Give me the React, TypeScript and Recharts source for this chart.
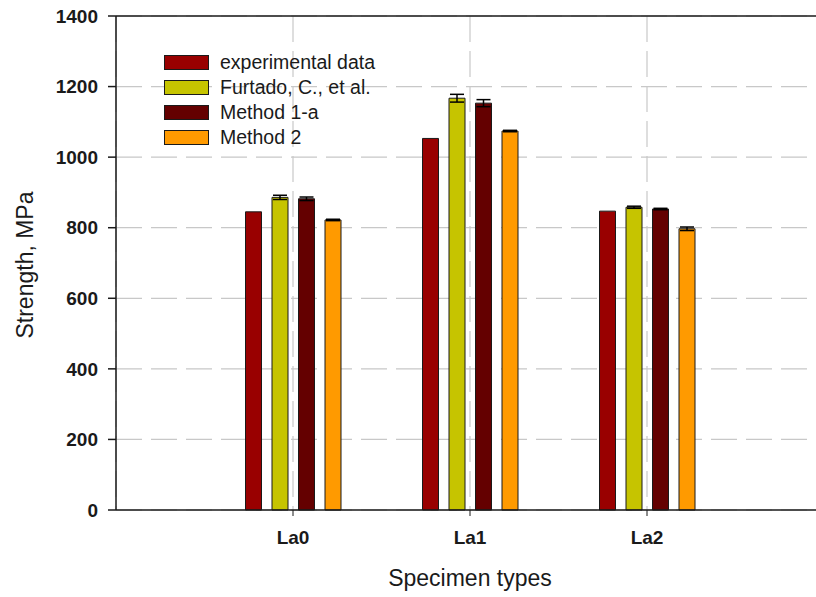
import React from 'react';
import { BarChart, Bar, XAxis, YAxis, CartesianGrid, ErrorBar, Legend, ReferenceLine } from 'recharts';

const categories = ['La0', 'La1', 'La2'];
const experimental = [845, 1053, 847];
const furtado = [886, 1167, 858];
const furtadoErr = [6, 11, 3];
const method1a = [882, 1153, 853];
const method1aErr = [5, 10, 2];
const method2 = [822, 1074, 797];
const method2Err = [2, 2, 5];
const yTicks = [0, 200, 400, 600, 800, 1000, 1200, 1400];

const seriesKeys = ['exp', 'fur', 'm1', 'm2'];
const seriesNames = ['experimental data', 'Furtado, C., et al.', 'Method 1-a', 'Method 2'];
const seriesColors = ['#990000', '#c6c400', '#640000', '#ff9a00'];

const data = categories.map((c, i) => ({
  name: c,
  exp: experimental[i],
  fur: furtado[i],
  furErr: furtadoErr[i],
  m1: method1a[i],
  m1Err: method1aErr[i],
  m2: method2[i],
  m2Err: method2Err[i],
}));

const FONT = '"Liberation Sans", Arial, Helvetica, sans-serif';
const INK = '#1a1a1a';

const YTitle = (props: any) => {
  const vb = props.viewBox || { x: 0, y: 16, width: 116, height: 494 };
  const cx = 25;
  const cy = vb.y + vb.height / 2 + 2;
  return (
    <text x={cx} y={cy} transform={`rotate(-90 ${cx} ${cy})`} textAnchor="middle" dominantBaseline="central"
      fontSize={23} fontFamily={FONT} fill={INK}>Strength, MPa</text>
  );
};

const XTitle = (props: any) => {
  const vb = props.viewBox || { x: 116, y: 510, width: 708, height: 87 };
  return (
    <text x={vb.x + vb.width / 2} y={578} textAnchor="middle" dominantBaseline="central"
      fontSize={23} fontFamily={FONT} fill={INK}>Specimen types</text>
  );
};

const LegendContent = () => (
  <div style={{ fontFamily: FONT }}>
    {seriesNames.map((n, i) => (
      <div key={n} style={{ display: 'flex', alignItems: 'center', height: 25 }}>
        <div style={{ width: 43, height: 13, background: seriesColors[i], border: `1px solid ${INK}` }} />
        <span style={{ marginLeft: 11, fontSize: 19.5, color: INK, lineHeight: '25px', whiteSpace: 'nowrap' }}>{n}</span>
      </div>
    ))}
  </div>
);

export default function App() {
  return (
    <div style={{ position: 'absolute', left: 0, top: 0, width: 816, height: 597, overflow: 'hidden', background: '#fff' }}>
      <BarChart width={840} height={597} data={data} margin={{ top: 16, right: 16, bottom: 0, left: 0 }}
        barSize={16} barGap={10.5}>
        <CartesianGrid stroke="#c8c8c8" strokeDasharray="26 9" strokeWidth={1.2} />
        <XAxis dataKey="name" type="category" padding={{ left: 88.5, right: 88.5 }} height={87}
          axisLine={{ stroke: INK, strokeWidth: 1.5 }} tickLine={{ stroke: INK, strokeWidth: 1 }} tickSize={6} tickMargin={15}
          tick={{ fontSize: 19, fontWeight: 'bold', fontFamily: FONT, fill: INK }} label={<XTitle />} />
        <YAxis type="number" domain={[0, 1400]} ticks={yTicks} width={116} interval={0}
          axisLine={{ stroke: INK, strokeWidth: 1.5 }} tickLine={{ stroke: INK, strokeWidth: 1.5 }} tickSize={8} tickMargin={10}
          tick={{ fontSize: 19, fontWeight: 'bold', fontFamily: FONT, fill: INK }} label={<YTitle />} />
        <ReferenceLine y={1400} stroke={INK} strokeWidth={1.5} />
        <Legend layout="vertical" align="center" verticalAlign="middle" content={<LegendContent />}
          wrapperStyle={{ position: 'absolute', top: 50, left: 164, width: 'auto', height: 'auto' }} />
        {seriesKeys.map((k, i) => (
          <Bar key={k} dataKey={k} name={seriesNames[i]} fill={seriesColors[i]} stroke={INK} strokeWidth={1}
            isAnimationActive={false}>
            {k !== 'exp' && (
              <ErrorBar dataKey={`${k}Err`} width={7} stroke="#000" strokeWidth={1.5} direction="y" />
            )}
          </Bar>
        ))}
      </BarChart>
    </div>
  );
}
